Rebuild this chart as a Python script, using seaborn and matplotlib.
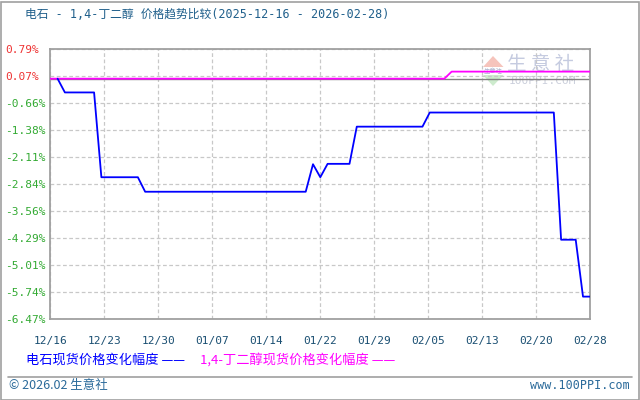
import numpy as np
import pandas as pd
import matplotlib
matplotlib.use("Agg")
import matplotlib.pyplot as plt
import seaborn as sns

# ---- data ----
start_date = "2025-12-16"
end_date = "2026-02-28"
carbide_dates = ["2025-12-17", "2025-12-18", "2025-12-22", "2025-12-23", "2025-12-28",
                 "2025-12-29", "2026-01-20", "2026-01-21", "2026-01-22", "2026-01-23",
                 "2026-01-26", "2026-01-27", "2026-02-05", "2026-02-06", "2026-02-23",
                 "2026-02-24", "2026-02-26", "2026-02-27", "2026-02-28"]
carbide_values = [0.0, -0.37, -0.37, -2.65, -2.65,
                  -3.04, -3.04, -2.30, -2.65, -2.29,
                  -2.29, -1.29, -1.29, -0.91, -0.91,
                  -4.33, -4.33, -5.86, -5.86]
bdo_dates = ["2025-12-16", "2026-02-08", "2026-02-09", "2026-02-28"]
bdo_values = [0.0, 0.0, 0.19, 0.19]
x_tick_labels = ["12/16", "12/23", "12/30", "01/07", "01/14", "01/22",
                 "01/29", "02/05", "02/13", "02/20", "02/28"]
y_tick_labels = ["0.79%", "0.07%", "-0.66%", "-1.38%", "-2.11%", "-2.84%",
                 "-3.56%", "-4.29%", "-5.01%", "-5.74%", "-6.47%"]
y_top, y_bottom = 0.79, -6.47

title = "电石 - 1,4-丁二醇 价格趋势比较(2025-12-16 - 2026-02-28)"
legend1 = "电石现货价格变化幅度"
legend2 = "1,4-丁二醇现货价格变化幅度"

# ---- build frames ----
t0 = pd.Timestamp(start_date)
ndays = (pd.Timestamp(end_date) - t0).days
df1 = pd.DataFrame({"day": [(pd.Timestamp(d) - t0).days for d in carbide_dates],
                    "v": carbide_values})
df2 = pd.DataFrame({"day": [(pd.Timestamp(d) - t0).days for d in bdo_dates],
                    "v": bdo_values})

sns.set_style("white")
plt.rcParams["font.family"] = ["Noto Sans CJK SC", "DejaVu Sans"]
MONO = ["DejaVu Sans Mono", "Noto Sans CJK SC"]

fig = plt.figure(figsize=(6.4, 4.0), dpi=100)
fig.patch.set_facecolor("white")
ax = fig.add_axes([50.3 / 640, 1 - 319.3 / 400, 540 / 640, 270 / 400])
ax.set_facecolor("none")

ax.axhline(0, color="#808080", lw=1.0, zorder=1)
sns.lineplot(data=df2, x="day", y="v", ax=ax, color="#ff00ff", lw=1.3, zorder=3,
             estimator=None)
sns.lineplot(data=df1, x="day", y="v", ax=ax, color="#0000ff", lw=1.3, zorder=4,
             estimator=None)

ax.set_xlim(0, ndays)
ax.set_ylim(y_bottom, y_top)
ax.set_xlabel("")
ax.set_ylabel("")

xt = np.linspace(0, ndays, len(x_tick_labels))
yt = np.linspace(y_top, y_bottom, len(y_tick_labels))
ax.set_xticks(xt)
ax.set_xticklabels(x_tick_labels, color="#1a4f72", fontsize=8, family=MONO)
ax.set_yticks(yt)
ax.set_yticklabels(y_tick_labels, fontsize=8, family=MONO)
for lab, val in zip(ax.get_yticklabels(), yt):
    lab.set_color("#ee3333" if val > 0 else "#33aa33")
    lab.set_horizontalalignment("left")
ax.tick_params(axis="y", length=0, pad=45.5 * 0.72)
ax.tick_params(axis="x", length=0, pad=12)

ax.grid(True, color="#c8c8c8", ls=(0, (3, 2)), lw=0.9)
for s in ax.spines.values():
    s.set_color("#a0a0a0")
    s.set_linewidth(1.3)

# title
fig.text(25 / 640, 1 - 15 / 400, title, color="#1f5f8b", fontsize=8.5,
         ha="left", va="center", family=MONO)

# watermark logo (drawn under the transparent axes)
def fx(px):
    return px / 640

def fy(py):
    return 1 - py / 400

fig.add_artist(plt.Polygon([[fx(483), fy(67)], [fx(493), fy(56)], [fx(503.5), fy(67)]],
                           closed=True, facecolor="#f6c4bc", edgecolor="none", zorder=-1))
fig.add_artist(plt.Polygon([[fx(483), fy(75)], [fx(493), fy(86)], [fx(503.5), fy(75)]],
                           closed=True, facecolor="#cdebcd", edgecolor="none", zorder=-1))
fig.text(fx(493), fy(71), "生意社", color="#a9b1cc", fontsize=4.5,
         ha="center", va="center", zorder=-1)
fig.text(fx(541), fy(65), "生 意 社", color="#c5cbe0", fontsize=14,
         ha="center", va="center", zorder=-1)
fig.text(fx(542), fy(81.5), "100PPI.COM", color="#ccd0dc", fontsize=8,
         ha="center", va="center", zorder=-1, family=MONO)

# legend
fig.text(26 / 640, 1 - 360 / 400, legend1 + " ——", color="#0000ff", fontsize=9.5,
         ha="left", va="center")
fig.text(200 / 640, 1 - 360 / 400, legend2 + " ——", color="#ff00ff", fontsize=9.5,
         ha="left", va="center")

# footer separator
fig.add_artist(plt.Line2D([8 / 640, 632 / 640], [1 - 376.5 / 400, 1 - 376.5 / 400],
                          color="#a0a0a0", lw=1.2))
fig.text(9 / 640, 1 - 385.5 / 400, "© 2026.02 生意社", color="#2a6a9a", fontsize=9,
         ha="left", va="center")
fig.text(630 / 640, 1 - 385.5 / 400, "www.100PPI.com", color="#2a6a9a", fontsize=8.5,
         ha="right", va="center", family=MONO)

# outer border
fig.add_artist(plt.Rectangle((0.5 / 640, 0.5 / 400), 638.5 / 640, 398 / 400,
                             fill=False, edgecolor="#a0a0a0", lw=1.2))

fig.savefig("out.png", dpi=100)
